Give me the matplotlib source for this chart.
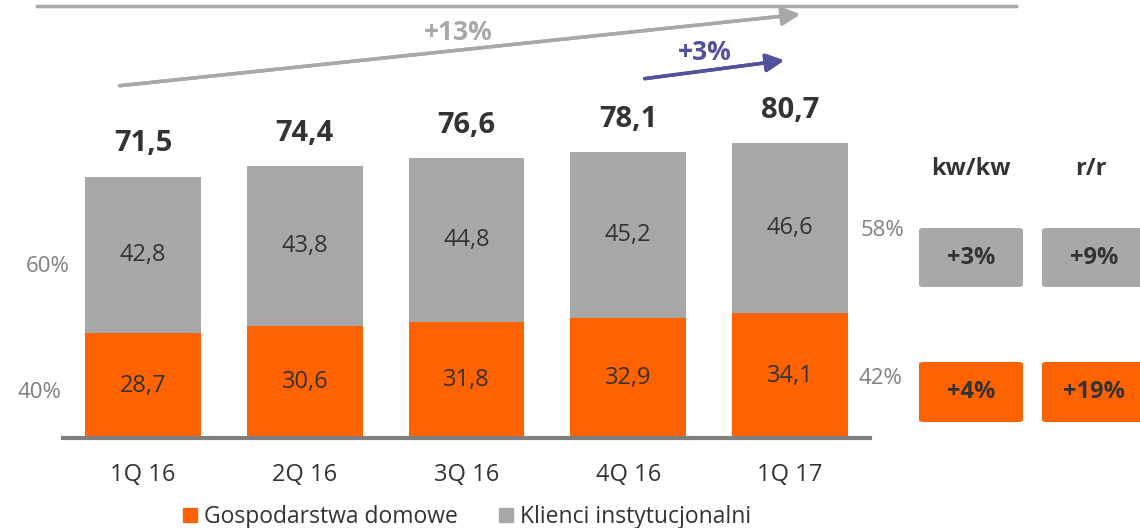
import numpy as np
import matplotlib.pyplot as plt
from matplotlib.patches import FancyBboxPatch

plt.rcParams['font.family'] = ['Open Sans', 'DejaVu Sans']

# dane
kwartaly = ['1Q 16', '2Q 16', '3Q 16', '4Q 16', '1Q 17']
gospodarstwa = [28.7, 30.6, 31.8, 32.9, 34.1]
instytucje = [42.8, 43.8, 44.8, 45.2, 46.6]
sumy = [71.5, 74.4, 76.6, 78.1, 80.7]
udzial_start = ['60%', '40%']
udzial_koniec = ['58%', '42%']
zmiana_kwkw = ['+3%', '+4%']
zmiana_rr = ['+9%', '+19%']
zmiana_calosc = '+13%'
zmiana_kw = '+3%'

pomarancz = '#FF6200'
szary = '#A8A8A8'
tekst = '#333333'
fiolet = '#525199'

W, H = 1140, 528
fig = plt.figure(figsize=(W / 100, H / 100), dpi=100)

# os wykresu w pikselach: x 63..870, y 0..438 (od gory)
ax = fig.add_axes([63 / W, (H - 438) / H, (870 - 63) / W, 438 / H])
x = np.arange(len(kwartaly))
szer = 0.717
ax.bar(x, gospodarstwa, szer, color=pomarancz, zorder=2)
ax.bar(x, instytucje, szer, bottom=gospodarstwa, color=szary, zorder=2)
ax.set_xlim(-0.495, 4.495)
ax.set_ylim(0, 119.8)

for i in range(len(x)):
    ax.text(x[i], gospodarstwa[i] / 2, f'{gospodarstwa[i]:.1f}'.replace('.', ','),
            ha='center', va='center', fontsize=17, color=tekst)
    ax.text(x[i], gospodarstwa[i] + instytucje[i] / 2, f'{instytucje[i]:.1f}'.replace('.', ','),
            ha='center', va='center', fontsize=17, color=tekst)
    ax.text(x[i], sumy[i] + 9, f'{sumy[i]:.1f}'.replace('.', ','),
            ha='center', va='center', fontsize=21, fontweight='bold', color=tekst)

for s in ['top', 'right', 'left']:
    ax.spines[s].set_visible(False)
ax.spines['bottom'].set_color('#7f7f7f')
ax.spines['bottom'].set_linewidth(3)
ax.set_yticks([])
ax.set_xticks(x)
ax.set_xticklabels(kwartaly, fontsize=17, color=tekst)
ax.tick_params(axis='x', length=0, pad=18)


def fx(px):
    return px / W


def fy(py):
    return 1 - py / H


# procenty po bokach
fig.text(fx(70), fy(266), udzial_start[0], ha='right', va='center', fontsize=16, color='#808080')
fig.text(fx(61), fy(393), udzial_start[1], ha='right', va='center', fontsize=16, color='#808080')
fig.text(fx(904), fy(230), udzial_koniec[0], ha='right', va='center', fontsize=16, color='#808080')
fig.text(fx(902), fy(379), udzial_koniec[1], ha='right', va='center', fontsize=16, color='#808080')

# linia u gory
fig.add_artist(plt.Line2D([fx(37), fx(1016)], [fy(6), fy(6)], color=szary, lw=2.5))

# strzalki
fig.add_artist(plt.annotate('', xy=(fx(803), fy(14)), xytext=(fx(117), fy(86)),
                            xycoords='figure fraction', textcoords='figure fraction',
                            arrowprops=dict(arrowstyle='-|>,head_length=1.1,head_width=0.55',
                                            color=szary, lw=2.5)))
fig.text(fx(458), fy(32), zmiana_calosc, ha='center', va='center', fontsize=19,
         fontweight='bold', color=szary)
fig.add_artist(plt.annotate('', xy=(fx(787), fy(60)), xytext=(fx(642), fy(79)),
                            xycoords='figure fraction', textcoords='figure fraction',
                            arrowprops=dict(arrowstyle='-|>,head_length=1.1,head_width=0.55',
                                            color=fiolet, lw=2.5)))
fig.text(fx(705), fy(53), zmiana_kw, ha='center', va='center', fontsize=19,
         fontweight='bold', color=fiolet)

# tabelka zmian
fig.text(fx(971), fy(169), 'kw/kw', ha='center', va='center', fontsize=17, fontweight='bold', color=tekst)
fig.text(fx(1091), fy(169), 'r/r', ha='center', va='center', fontsize=17, fontweight='bold', color=tekst)
kolumny = [(919, 1023, zmiana_kwkw), (1042, 1146, zmiana_rr)]
wiersze = [(228, 287, szary), (362, 422, pomarancz)]
for x0, x1, wartosci in kolumny:
    for j, (y0, y1, kol) in enumerate(wiersze):
        fig.add_artist(FancyBboxPatch((fx(x0), fy(y1)), fx(x1 - x0), (y1 - y0) / H,
                                      boxstyle='round,pad=0,rounding_size=0.004',
                                      transform=fig.transFigure, color=kol, lw=0))
        fig.text(fx((x0 + x1) / 2), fy((y0 + y1) / 2), wartosci[j], ha='center', va='center',
                 fontsize=17, fontweight='bold', color=tekst)

# legenda
h1 = plt.Rectangle((0, 0), 1, 1, color=pomarancz)
h2 = plt.Rectangle((0, 0), 1, 1, color=szary)
fig.legend([h1, h2], ['Gospodarstwa domowe', 'Klienci instytucjonalni'], ncol=2,
           loc='center', bbox_to_anchor=(fx(467), fy(517)), frameon=False, fontsize=16.5,
           handlelength=0.6, handleheight=0.6, handletextpad=0.3, columnspacing=1.8,
           labelcolor=tekst)

fig.savefig('out.png', dpi=100)
